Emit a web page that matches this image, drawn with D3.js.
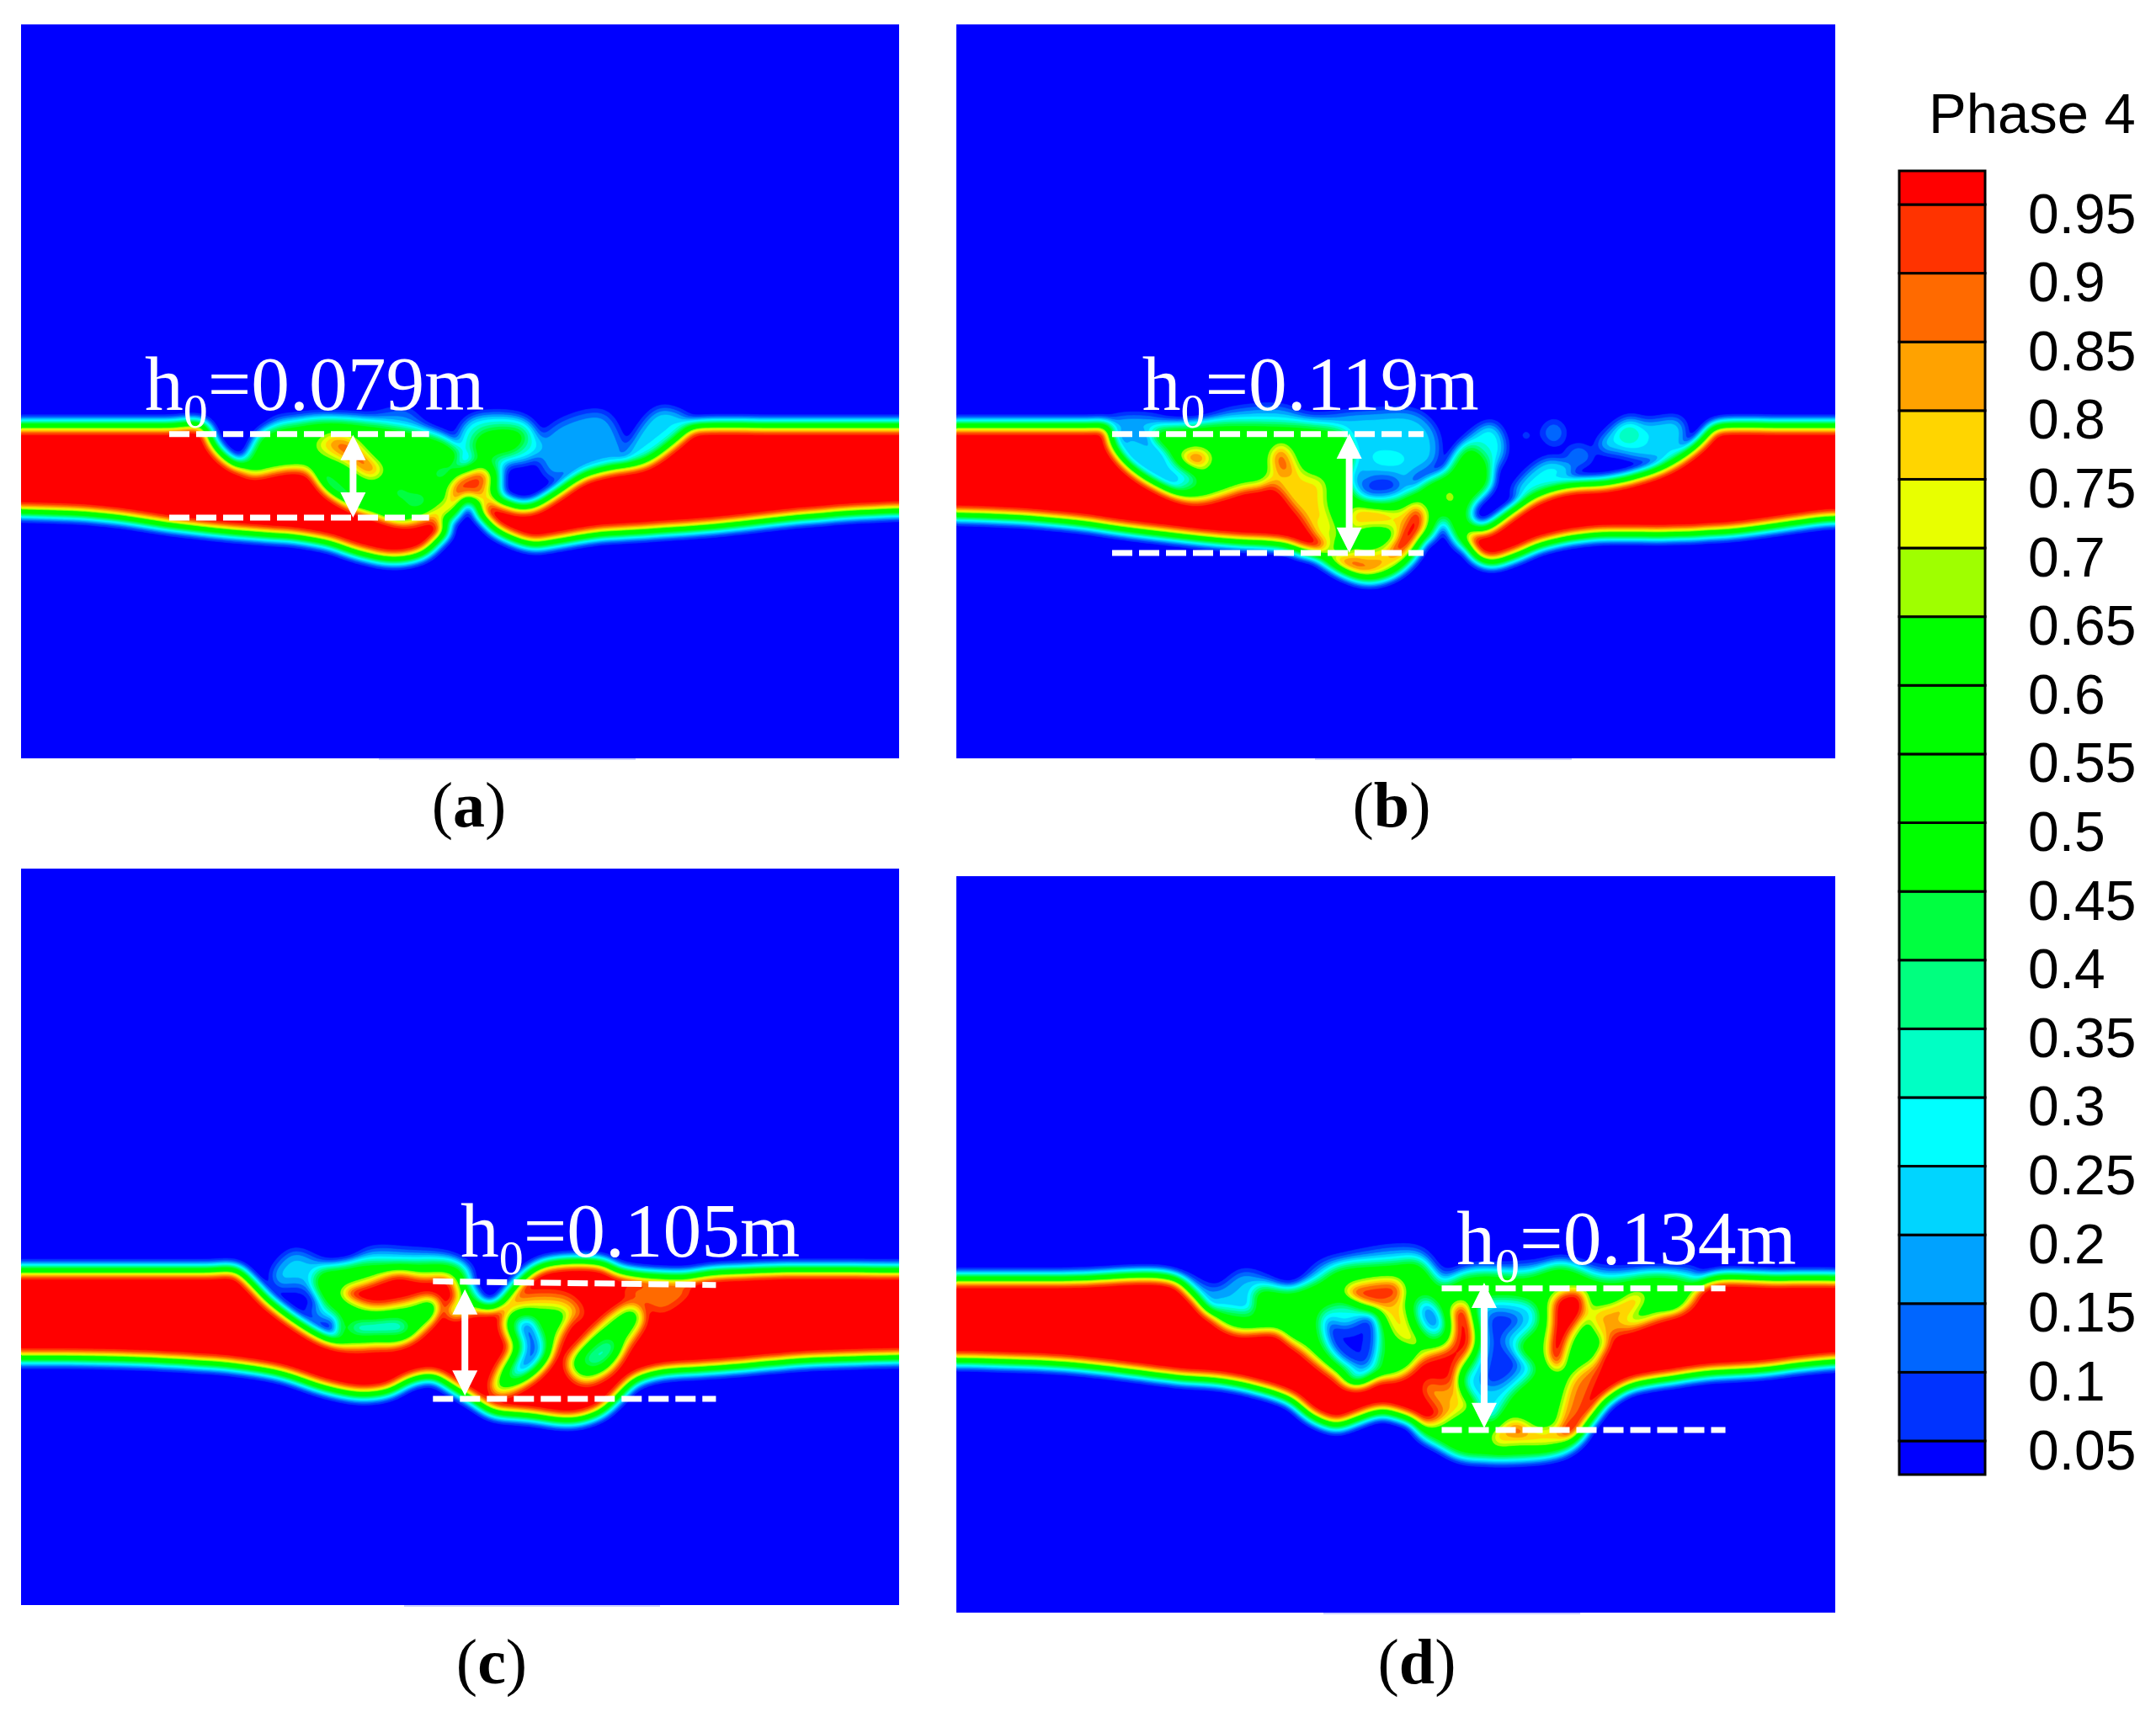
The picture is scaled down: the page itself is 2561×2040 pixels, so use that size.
<!DOCTYPE html>
<html><head><meta charset="utf-8">
<style>html,body{margin:0;padding:0;background:#fff}svg{display:block}</style>
<script src="https://cdn.jsdelivr.net/npm/d3@7"></script>
</head><body><svg id="chart" width="2561" height="2040"></svg>
<script>
// ---- colour map levels ----
const levels=[0.05,0.1,0.15,0.2,0.25,0.3,0.35,0.4,0.45,0.5,0.55,0.6,0.65,0.7,0.75,0.8,0.85,0.9,0.95];
const bandColors=["#0000ff","#0033ff","#0066ff","#00a2ff","#00d5ff","#00ffff","#00ffc4","#00ff7f","#00ff40","#00ff00","#00ff00","#00ff00","#00ff00","#9fff00","#e8ff00","#ffd500","#ffa200","#ff6a00","#ff3300","#ff0000"];
const panelLabels=["a","b","c","d"];
const h0Values=["0.079","0.119","0.105","0.134"];

// ---- phase field outlines, [phase value, outline] painted in order ----
const fieldA=[
[.11,[[330,300],[450,278],[560,283],[650,258],[700,320],[780,370],[700,345],[400,330]]],
[.13,[[955,400],[1000,315],[1110,272],[1145,340],[1155,430],[1050,475],[990,505],[965,450]]],
[.19,[[1165,435],[1180,370],[1240,262],[1295,280],[1320,320],[1245,430]]],
[.25,[[775,390],[795,305],[850,282],[930,300],[960,370],[945,430],[885,450],[865,485],[835,475],[800,440]]],
[.58,[[825,345],[880,328],[928,348],[905,405],[865,418],[826,440],[810,380]]],
[.58,[[262,465],[288,425],[318,345],[400,312],[470,300],[560,310],[660,335],[755,382],[778,430],[750,475],[790,460],[835,445],[865,480],[870,570],[905,600],[880,640],[700,650],[620,625],[520,565],[440,470],[380,445],[320,465]]],
[.25,[[715,480],[755,462],[740,505],[712,505]]],
[.28,[[645,580],[682,555],[705,590],[670,610]]],
[.28,[[620,545],[650,535],[650,570],[620,570]]],
[.68,[[650,392],[695,388],[685,435],[660,435]]],
[.8,[[435,385],[468,345],[525,355],[565,420],[605,475],[575,512],[540,475],[500,445],[458,425]]],
[.92,[[470,362],[520,365],[578,450],[582,490],[552,495],[515,445],[485,412]]],
[.85,[[690,645],[740,590],[775,565],[855,565],[855,600],[800,582],[750,640]]],
[.95,[[750,570],[765,505],[838,470],[848,522],[815,575],[778,590]]],
[1,[[-900,315],[-400,315],[-100,315],[100,315],[180,315],[205,385],[240,440],[290,478],[330,470],[385,455],[430,470],[470,540],[520,590],[580,622],[640,650],[720,650],[752,680],[725,730],[690,775],[620,795],[540,772],[470,737],[400,717],[300,705],[200,692],[100,674],[0,650],[-120,632],[-245,625],[-400,622],[-900,622]]],
[1,[[850,590],[880,600],[945,603],[1000,555],[1060,495],[1120,468],[1210,443],[1270,380],[1320,320],[1350,315],[1500,315],[1800,315],[2300,315],[2300,622],[1801,622],[1568,645],[1400,674],[1300,687],[1200,697],[1100,707],[1000,732],[950,742],[900,722],[850,680],[820,630]]],
[0,[[745,690],[772,625],[795,572],[818,625],[850,690],[800,820]]],
];
const fieldB=[
[.16,[[95,300],[180,286],[280,316],[380,266],[490,254],[560,286],[680,272],[805,272],[852,340],[852,450],[795,510],[805,560],[720,585],[675,560],[665,490],[665,360],[600,345],[200,345],[110,340]]],
[.22,[[695,415],[760,405],[795,440],[730,470]]],
[.04,[[685,510],[755,495],[775,545],[720,565],[685,550]]],
[.23,[[895,425],[985,312],[1012,400],[970,495],[885,525]]],
[.09,[[1048,350],[1065,330],[1080,360],[1062,372]]],
[.11,[[1100,340],[1130,298],[1155,340],[1130,388]]],
[.11,[[1155,420],[1190,385],[1220,430],[1180,465]]],
[.21,[[1035,565],[1055,510],[1120,440],[1175,480],[1125,525],[1085,565]]],
[.19,[[1230,395],[1300,292],[1345,305],[1425,300],[1415,425],[1345,435],[1285,415]]],
[.33,[[1275,350],[1305,315],[1330,355],[1300,380]]],
[.58,[[190,345],[640,345],[662,400],[652,520],[680,580],[740,592],[800,560],[825,525],[885,478],[930,395],[965,430],[980,520],[935,600],[930,650],[950,680],[925,730],[910,770],[880,700],[830,720],[700,760],[560,720],[480,540],[350,550],[290,560],[250,520],[300,510],[250,450],[220,400]]],
[.19,[[112,365],[165,365],[220,430],[305,520],[270,530],[190,480],[136,410]]],
[.72,[[245,430],[295,390],[340,425],[318,485],[272,465]]],
[.95,[[258,430],[295,405],[325,425],[308,460],[278,450]]],
[.7,[[585,392],[622,390],[648,460],[618,450]]],
[.74,[[862,560],[890,530],[910,580],[885,615]]],
[.82,[[465,420],[490,378],[515,395],[545,480],[595,510],[600,600],[630,730],[560,650],[500,530],[450,532],[465,480]]],
[.93,[[472,420],[492,388],[515,450],[520,495],[488,485]]],
[.82,[[560,762],[600,772],[650,762],[655,612],[700,606],[770,616],[803,585],[830,608],[830,690],[795,792],[745,850],[690,865],[650,848],[600,805]]],
[.58,[[665,700],[690,678],[750,683],[762,715],[702,762],[660,750]]],
[1,[[808,605],[828,640],[807,722],[762,778],[744,765],[780,680]]],
[.95,[[606,730],[640,775],[700,805],[745,785],[692,842],[638,825]]],
[.9,[[662,628],[722,620],[745,652],[690,654]]],
[1,[[-900,315],[-400,315],[-100,315],[50,315],[90,318],[105,390],[150,470],[220,535],[290,570],[350,555],[420,530],[490,530],[530,600],[580,700],[610,750],[560,772],[500,744],[400,734],[300,720],[200,702],[100,682],[0,662],[-130,645],[-261,637],[-400,637],[-900,637]]],
[1,[[925,712],[945,692],[975,680],[1020,632],[1080,572],[1150,532],[1260,517],[1330,492],[1410,442],[1470,372],[1500,322],[1530,315],[1650,315],[1800,315],[2300,315],[2300,650],[1784,650],[1680,668],[1568,692],[1400,707],[1300,707],[1200,712],[1100,742],[1040,782],[980,807],[940,775]]],
[0,[[845,720],[862,660],[872,630],[892,700],[925,790],[880,830]]],
];
const fieldC=[
[.16,[[165,350],[220,262],[290,295],[350,325],[420,260],[520,260],[650,285],[695,340],[600,360],[340,400],[335,495],[310,510],[225,445]]],
[.02,[[180,395],[240,380],[295,440],[272,470],[215,445]]],
[.58,[[280,345],[380,307],[520,305],[662,315],[695,400],[728,470],[640,470],[600,445],[560,520],[500,570],[400,590],[340,560],[345,500],[325,470],[295,430]]],
[.18,[[365,520],[440,507],[515,505],[528,538],[440,556],[380,552]]],
[1,[[345,405],[420,365],[500,330],[560,345],[640,350],[660,440],[620,480],[590,430],[520,450],[440,465],[385,445]]],
[1,[[-1100,325],[-700,325],[-300,325],[0,325],[70,325],[110,370],[160,440],[230,510],[300,565],[370,590],[440,590],[520,570],[585,495],[605,450],[640,480],[690,470],[725,460],[760,455],[820,370],[880,310],[1040,300],[1090,330],[1250,350],[1340,335],[1500,325],[1835,325],[2400,325],[2400,640],[1835,640],[1700,645],[1568,652],[1400,672],[1300,682],[1200,692],[1130,722],[1090,772],[1040,832],[960,864],[850,847],[750,832],[700,792],[640,742],[590,707],[540,717],[470,762],[400,772],[300,747],[200,702],[100,677],[0,662],[-250,645],[-504,642],[-700,642],[-1100,642]]],
[.9,[[1090,400],[1280,385],[1200,475],[1150,440]]],
[.86,[[800,430],[950,420],[990,490],[790,470]]],
[.58,[[785,490],[830,465],[950,478],[925,560],[895,650],[805,750],[755,758],[765,700],[805,600],[785,540]]],
[.21,[[805,510],[850,485],[880,540],[895,625],[845,705],[790,715],[825,600],[810,550]]],
[.07,[[822,520],[852,505],[870,545],[880,620],[838,685],[812,685],[838,600],[827,555]]],
[.58,[[955,662],[995,590],[1078,485],[1122,455],[1148,490],[1105,592],[1055,685],[988,718]]],
[.28,[[985,652],[1060,565],[1085,600],[1032,675]]],
];
const fieldD=[
[.15,[[15,345],[100,396],[170,335],[230,355],[300,396],[380,305],[440,280],[640,255],[705,340],[780,315],[850,315],[960,305],[1020,290],[1130,325],[1280,325],[1385,340],[1350,450],[1100,620],[600,700],[200,500],[110,470]]],
[.58,[[90,470],[200,480],[205,400],[300,400],[370,370],[420,325],[560,305],[640,300],[700,385],[760,350],[820,340],[920,350],[1020,315],[1130,365],[1280,345],[1370,370],[1400,390],[1350,450],[1200,540],[1130,620],[1085,890],[1040,962],[980,987],[850,997],[750,987],[700,952],[640,902],[600,700],[400,700],[270,520],[150,520]]],
[.18,[[795,440],[945,445],[958,520],[905,600],[952,680],[885,775],[832,875],[802,832],[765,792],[752,720],[785,650],[795,560]]],
[.04,[[825,478],[915,498],[865,580],[910,660],[862,735],[812,742],[825,600]]],
[.23,[[372,480],[420,445],[525,472],[546,580],[526,690],[470,700],[396,625],[370,550]]],
[.03,[[395,500],[440,522],[515,485],[528,560],[503,675],[458,665],[405,602]]],
[.25,[[565,632],[585,615],[610,632],[585,650]]],
[.25,[[622,450],[660,412],[718,530],[682,578],[636,532]]],
[.07,[[645,468],[670,445],[700,520],[675,545]]],
[.23,[[1125,432],[1182,410],[1175,455],[1140,455]]],
[.33,[[1280,430],[1322,415],[1325,455],[1288,455]]],
[.95,[[440,395],[590,365],[596,440],[562,466],[478,450]]],
[.82,[[535,470],[595,438],[625,540],[650,600],[588,578],[556,522]]],
[.86,[[1095,482],[1245,405],[1230,455],[1130,575]]],
[.98,[[650,630],[720,590],[728,458],[762,442],[795,590],[748,680],[752,760],[784,800],[732,845],[680,878],[636,832],[606,720]]],
[.88,[[612,725],[680,745],[745,730],[765,790],[730,835],[690,860],[640,825]]],
[.75,[[636,740],[668,732],[674,768],[642,774]]],
[.78,[[730,780],[764,786],[758,820],[726,814]]],
[1,[[655,810],[685,815],[695,850],[665,860]]],
[1,[[997,420],[1072,396],[1088,470],[1043,572],[1012,690],[982,642],[987,520]]],
[.58,[[1036,610],[1100,525],[1116,590],[1064,705],[1026,695]]],
[1,[[-1200,355],[-800,355],[-300,355],[-10,355],[40,410],[80,470],[150,530],[260,530],[320,590],[400,680],[470,730],[530,700],[600,690],[650,630],[660,750],[690,860],[660,882],[600,852],[540,832],[470,862],[420,882],[350,847],[300,792],[200,747],[100,722],[0,712],[-300,665],[-589,651],[-800,651],[-1200,651]]],
[1,[[1400,365],[1600,355],[1800,355],[2400,355],[2400,651],[1747,655],[1650,668],[1568,682],[1400,697],[1300,717],[1200,742],[1140,792],[1095,865],[1050,925],[1005,930],[1010,880],[1050,790],[1090,690],[1130,600],[1150,560],[1250,500],[1350,450]]],
[.9,[[1050,700],[1120,650],[1092,760],[1055,860],[1012,885],[1022,800]]],
[.86,[[830,932],[870,862],[912,862],[960,895],[1008,888],[1015,938],[900,948],[840,952]]],
[.97,[[885,885],[910,870],[925,900],[895,915]]],
];
// crop window each outline was read in (page px) and annotation readings in the same units
const fields=[fieldA,fieldB,fieldC,fieldD];
const plotLeft=[25,1136,25,1136], plotTop=[29,29,1032,1041], plotWidth=[1043,1044,1043,1044], plotHeight=[872,872,875,875];
const readX=[150,1270,250,1400], readY=[400,400,1400,1400], readW=[800,800,700,700];
const dashX=[[100,705],[100,825],[592,1345],[700,1455]];
const dashTop=[[347,347],[347,347],[367,380],[392,392]];
const dashBottom=[645,771,786,897];
const arrowX=[528,652,677,813];
const arrowEnds=[[350,645],[345,770],[395,775],[372,890]];
const textAt=[[43,262],[170,262],[665,278],[740,305]];
const labelX=[557,1653,584,1683], labelY=[982,982,2000,2000];
const seamX=[[450,755],[1562,1867],[480,784],[1572,1877]];

const svg=d3.select("#chart");
const SERIF='"Liberation Serif","Times New Roman",serif', SANS='"Liberation Sans",Arial,sans-serif';
const STEP=2, SIGMA=6.5/STEP;
const blurR=(-1+Math.sqrt(1+4*SIGMA*SIGMA))/2;
const color=d3.scaleThreshold().domain(levels).range(bandColors);
// interface profile: gentler slope through the middle of the phase transition
const profile=v=>{const u=v-0.5;return 0.5+u*(0.7+1.2*u*u);};

fields.forEach((layers,i)=>{
  const L=plotLeft[i],T=plotTop[i],W=plotWidth[i],H=plotHeight[i];
  const x=d3.scaleLinear().domain([0,1568]).range([readX[i],readX[i]+readW[i]]);
  const y=d3.scaleLinear().domain([0,3]).range([readY[i],readY[i]+1]);
  const gw=Math.ceil(W/STEP)+1, gh=Math.ceil(H/STEP)+1;
  const cv=document.createElement("canvas");cv.width=gw;cv.height=gh;
  const ctx=cv.getContext("2d",{willReadFrequently:true});
  ctx.fillStyle="#000";ctx.fillRect(0,0,gw,gh);
  const gx=d=>(x(d[0])-L)/STEP, gy=d=>(y(d[1])-T)/STEP;
  const line=d3.line().x(gx).y(gy).curve(d3.curveCatmullRomClosed.alpha(0.5)).context(ctx);
  layers.forEach(([v,pts])=>{
    const g=Math.round(v*255);
    ctx.fillStyle=`rgb(${g},${g},${g})`;
    ctx.beginPath();line(pts);ctx.fill();
  });
  const img=ctx.getImageData(0,0,gw,gh).data;
  const data=new Float64Array(gw*gh);
  for(let k=0;k<data.length;k++)data[k]=img[k*4]/255;
  d3.blur2({data,width:gw,height:gh},blurR);
  for(let k=0;k<data.length;k++)data[k]=profile(data[k]);
  const contours=d3.contours().size([gw,gh]).thresholds(levels)(data);
  const g=svg.append("g").attr("transform",`translate(${L},${T}) scale(${STEP})`);
  const clipId="clip"+i;
  svg.append("clipPath").attr("id",clipId).append("rect").attr("width",W/STEP).attr("height",H/STEP);
  g.attr("clip-path",`url(#${clipId})`);
  g.append("rect").attr("width",gw).attr("height",gh).attr("fill",bandColors[0]);
  g.selectAll("path").data(contours).join("path")
    .attr("d",d3.geoPath()).attr("fill",d=>color(d.value+1e-6)).attr("stroke",d=>color(d.value+1e-6)).attr("stroke-width",0.3);
  // faint seam below each plot
  svg.append("rect").attr("x",seamX[i][0]).attr("y",T+H).attr("width",seamX[i][1]-seamX[i][0]).attr("height",2).attr("fill","#c8ccff");

  // annotations
  const a=svg.append("g");
  const dash=d3.line().x(d=>x(d[0])).y(d=>y(d[1]));
  const dashes=[[[dashX[i][0],dashTop[i][0]],[dashX[i][1],dashTop[i][1]]],[[dashX[i][0],dashBottom[i]],[dashX[i][1],dashBottom[i]]]];
  a.selectAll("path.dash").data(dashes).join("path").attr("class","dash").attr("d",dash)
    .attr("fill","none").attr("stroke","#fff").attr("stroke-width",7).attr("stroke-dasharray","24 8");
  const ax=x(arrowX[i]), y0=y(arrowEnds[i][0]), y1=y(arrowEnds[i][1]);
  const hw=15, hl=30;
  a.append("path").attr("fill","#fff").attr("d",
    `M${ax},${y0}L${ax+hw},${y0+hl}L${ax+4},${y0+hl}L${ax+4},${y1-hl}L${ax+hw},${y1-hl}L${ax},${y1}L${ax-hw},${y1-hl}L${ax-4},${y1-hl}L${ax-4},${y0+hl}L${ax-hw},${y0+hl}Z`);
  const t=a.append("text").attr("x",x(textAt[i][0])).attr("y",y(textAt[i][1]))
    .attr("fill","#fff").attr("font-family",SERIF).attr("font-size",91.5);
  t.append("tspan").text("h");
  t.append("tspan").attr("font-size",58).attr("dy",21).text("0");
  t.append("tspan").attr("dy",-21).text("="+h0Values[i]+"m");

  const lab=svg.append("text").attr("x",labelX[i]).attr("y",labelY[i]).attr("text-anchor","middle")
    .attr("font-family",SERIF).attr("font-size",76).attr("fill","#000");
  lab.append("tspan").text("(");
  lab.append("tspan").attr("font-weight","bold").text(panelLabels[i]);
  lab.append("tspan").text(")");
});

// ---- colour bar ----
const yBar=d3.scaleLinear().domain([0.95,0.05]).range([243,1712]);
const edges=[0.0255].concat(levels,[0.9745]);
const bar=svg.append("g");
bar.selectAll("rect").data(bandColors).join("rect")
  .attr("x",2256).attr("width",102)
  .attr("y",(d,i)=>yBar(edges[i+1])).attr("height",(d,i)=>yBar(edges[i])-yBar(edges[i+1]))
  .attr("fill",d=>d).attr("stroke","#000").attr("stroke-width",3);
const axis=d3.axisRight(yBar).tickValues(levels).tickSize(0).tickFormat(d=>String(+d.toFixed(2)));
const ag=svg.append("g").attr("transform","translate(2409,0)").call(axis);
ag.select(".domain").remove();
ag.selectAll("text").attr("x",0).attr("dy",33).attr("font-family",SANS).attr("font-size",66).attr("fill","#000");
svg.append("text").attr("x",2291).attr("y",158).attr("font-family",SANS).attr("font-size",67).attr("fill","#000").text("Phase 4");
</script></body></html>
